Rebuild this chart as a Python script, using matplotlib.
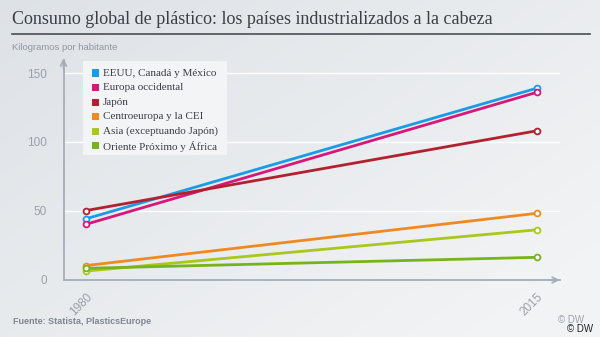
import numpy as np
import matplotlib
matplotlib.use("Agg")
import matplotlib.pyplot as plt
from matplotlib.patches import Rectangle

plt.rcParams["font.family"] = ["Liberation Sans", "DejaVu Sans"]

years = [1980, 2015]
series_names = [
    "EEUU, Canadá y México",
    "Europa occidental",
    "Japón",
    "Centroeuropa y la CEI",
    "Asia (exceptuando Japón)",
    "Oriente Próximo y África",
]
eeuu = [44, 139]
europa = [40, 136]
japon = [50, 108]
centro = [10, 48]
asia = [6, 36]
oriente = [8, 16]
series_values = [eeuu, europa, japon, centro, asia, oriente]
colors = ["#1a9be6", "#d8177a", "#b32130", "#ef8a22", "#a9c81c", "#77b41c"]
yticks = [0, 50, 100, 150]

W, H = 600, 337
fig = plt.figure(figsize=(W / 100, H / 100), dpi=100)

# background gradient
bg = fig.add_axes([0, 0, 1, 1], zorder=-10)
xx = np.linspace(0, 1, 300)
yy = np.linspace(0, 1, 200)
X, Y = np.meshgrid(xx, yy)
t = np.clip(0.55 * X + 0.45 * (1 - Y) + 0.1, 0, 1)
c0 = np.array([0.86, 0.88, 0.90])
c1 = np.array([0.95, 0.955, 0.96])
img = c0[None, None, :] * (1 - t[..., None]) + c1[None, None, :] * t[..., None]
bg.imshow(img, extent=[0, 1, 0, 1], aspect="auto", origin="lower")
bg.set_xlim(0, 1)
bg.set_ylim(0, 1)
bg.axis("off")

# title and underline
fig.text(12 / W, 1 - 20 / H, "Consumo global de plástico: los países industrializados a la cabeza",
         fontsize=13, family="Liberation Serif", color="#3a3f45", va="center", ha="left")
fig.add_artist(plt.Line2D([12 / W, 590 / W], [1 - 34 / H, 1 - 34 / H],
                          color="#4a4f55", lw=1.2))
fig.text(12 / W, 1 - 47 / H, "Kilogramos por habitante", fontsize=6.8,
         color="#8f969e", va="center", ha="left")

# plot area
x_left, x_right = 63.5, 560
y_top, y_bot = 60, 280
ax = fig.add_axes([x_left / W, 1 - y_bot / H, (x_right - x_left) / W, (y_bot - y_top) / H])
ax.patch.set_alpha(0)
px_per_unit = (279.3 - 73) / 150
ax.set_ylim(-0.5, (279.3 - y_top) / px_per_unit)
px_per_year = (537 - 86) / 35
ax.set_xlim(1980 - (86 - x_left) / px_per_year, 2015 + (x_right - 537) / px_per_year)

for yv in yticks[1:]:
    ax.axhline(yv, color="white", lw=1.0, zorder=1)

for name, vals, col in zip(series_names, series_values, colors):
    ax.plot(years, vals, color=col, lw=2.0, zorder=3,
            marker="o", ms=4.2, mfc="white", mec=col, mew=1.3)

for s in ["top", "right"]:
    ax.spines[s].set_visible(False)
for s in ["left", "bottom"]:
    ax.spines[s].set_color("#a4aeb9")
    ax.spines[s].set_linewidth(1.3)

# axis arrows
ax.annotate("", xy=(0, 1.02), xycoords="axes fraction", xytext=(0, 0.95),
            arrowprops=dict(arrowstyle="->", color="#a4aeb9", lw=1.3))
ax.annotate("", xy=(1.005, 0), xycoords="axes fraction", xytext=(0.97, 0),
            arrowprops=dict(arrowstyle="->", color="#a4aeb9", lw=1.3))

ax.set_yticks(yticks)
ax.set_yticklabels([str(v) for v in yticks])
ax.set_xticks(years)
ax.set_xticklabels([str(y) for y in years], rotation=45, ha="right", va="top",
                   rotation_mode="anchor")
ax.tick_params(axis="both", length=0, colors="#9aa1a9", labelsize=8.5)
ax.tick_params(axis="y", pad=12)
ax.tick_params(axis="x", pad=8)

# legend box
lx0, ly0, lx1, ly1 = 83, 61, 227, 155
fig.add_artist(Rectangle((lx0 / W, 1 - ly1 / H), (lx1 - lx0) / W, (ly1 - ly0) / H,
                         transform=fig.transFigure, facecolor="#f4f5f7",
                         edgecolor="none", alpha=0.95, zorder=5))
for i, (name, col) in enumerate(zip(series_names, colors)):
    yc = 73 + i * 14.6
    fig.add_artist(Rectangle((92 / W, 1 - (yc + 3.5) / H), 7 / W, 7 / H,
                             transform=fig.transFigure, facecolor=col,
                             edgecolor="none", zorder=6))
    fig.text(103 / W, 1 - yc / H, name, fontsize=8, family="Liberation Serif",
             color="#3a3f45", va="center", ha="left", zorder=7)

# footer
fig.text(13 / W, 1 - 321 / H, "Fuente: Statista, PlasticsEurope", fontsize=6.5,
         fontweight="bold", color="#7f8791", va="center", ha="left")
fig.text(584 / W, 1 - 320 / H, "© DW", fontsize=7, color="#9aa3ad",
         va="center", ha="right")
fig.text(593 / W, 1 - 329 / H, "© DW", fontsize=7, color="#222222",
         va="center", ha="right")

fig.savefig("out.png", dpi=100)
